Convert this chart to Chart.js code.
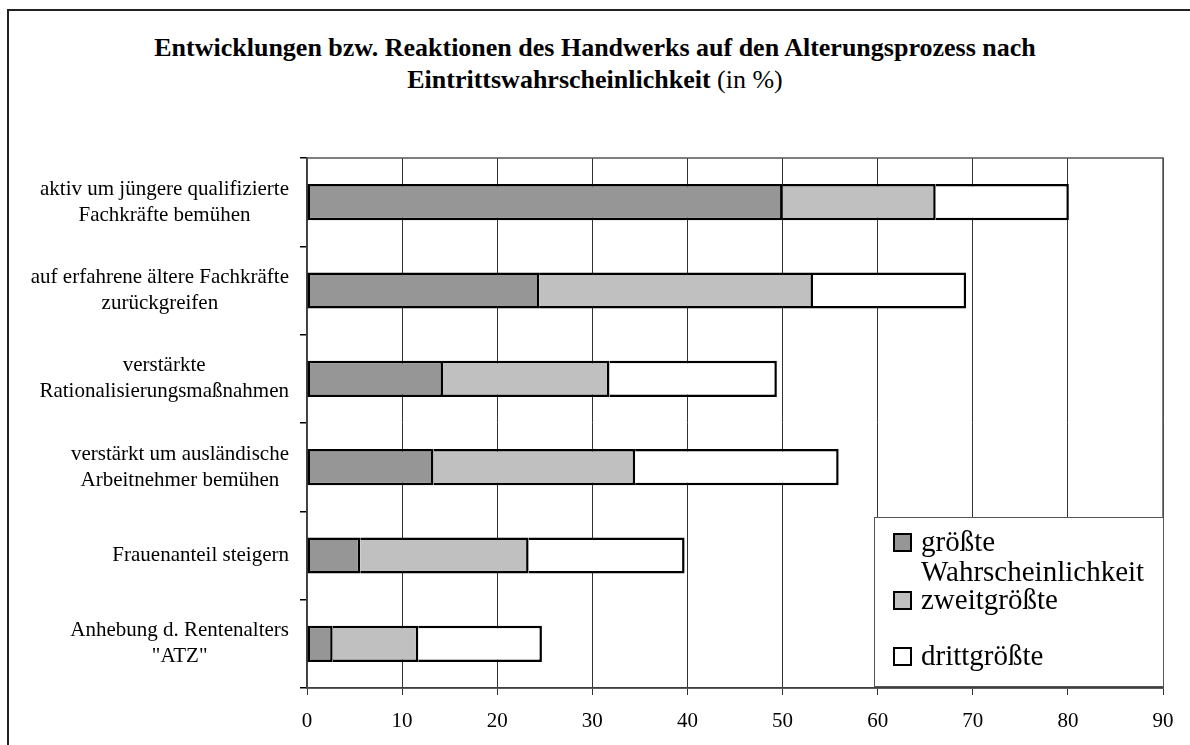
<!DOCTYPE html>
<html>
<head>
<meta charset="utf-8">
<script src="https://cdn.jsdelivr.net/npm/chart.js@4"></script>
<style>
  html, body { margin: 0; padding: 0; background: #fff; overflow: hidden; }
  #page { position: relative; width: 1190px; height: 745px; overflow: hidden; font-family: "Liberation Serif", "Times New Roman", serif; }
  #frame { position: absolute; left: 7px; top: 9px; width: 1300px; height: 900px; border-left: 2px solid #222; border-top: 2px solid #222; }
  #title { position: absolute; left: 0; width: 1190px; top: 32px; text-align: center; font-size: 26px; line-height: 32px; color: #000; }
  #title b { font-weight: bold; }
  canvas { position: absolute; left: 0; top: 0; }
  #legend { position: absolute; left: 874px; top: 517px; width: 288px; height: 168px; border: 1px solid #555; background: #fff; }
  .item { position: absolute; left: 18px; font-size: 29px; line-height: 30px; color: #000; }
  .item .sw { position: absolute; left: 0; top: 7px; width: 15px; height: 15px; border: 2px solid #000; }
  .item .tx { margin-left: 28px; display: block; width: 255px; }
</style>
</head>
<body>
<div id="page">
  <div id="frame"></div>
  <div id="title"><b>Entwicklungen bzw. Reaktionen des Handwerks auf den Alterungsprozess nach</b><br><b>Eintrittswahrscheinlichkeit</b> (in %)</div>
  <canvas id="chart" width="1190" height="745"></canvas>
  <div id="legend"></div>
</div>
<script>
const categories = [
  ['aktiv um jüngere qualifizierte', 'Fachkräfte bemühen'],
  ['auf erfahrene ältere Fachkräfte', 'zurückgreifen'],
  ['verstärkte', 'Rationalisierungsmaßnahmen'],
  ['verstärkt um ausländische', 'Arbeitnehmer bemühen'],
  ['Frauenanteil steigern'],
  ['Anhebung d. Rentenalters', '"ATZ"']
];
const seriesNames = [['größte', 'Wahrscheinlichkeit'], ['zweitgrößte'], ['drittgrößte']];
const largest = [50, 24.4, 14.3, 13.3, 5.6, 2.7];
const second = [16.1, 28.8, 17.5, 21.2, 17.7, 9.0];
const third = [14, 16.1, 17.6, 21.4, 16.4, 13.0];
const xTicks = [0, 10, 20, 30, 40, 50, 60, 70, 80, 90];

const colors = ['#969696', '#c0c0c0', '#ffffff'];
const fontFamily = '"Liberation Serif", "Times New Roman", serif';

function makeSet(i, data) {
  return {
    label: seriesNames[i].join(' '),
    data: data,
    backgroundColor: colors[i],
    borderColor: '#000',
    borderWidth: { top: 2.5, bottom: 2.5, right: 2.5, left: i === 0 ? 2.5 : 0 },
    borderSkipped: false,
    barPercentage: 0.41,
    categoryPercentage: 1
  };
}

// frame around plot area + wrapped category labels
const plotDecor = {
  id: 'plotDecor',
  beforeDatasetsDraw(chart) {
    const { ctx, chartArea: a } = chart;
    ctx.save();
    ctx.strokeStyle = '#555';
    ctx.lineWidth = 1.5;
    ctx.strokeRect(a.left, a.top, a.right - a.left, a.bottom - a.top);
    ctx.restore();
  },
  afterDraw(chart) {
    const { ctx } = chart;
    const y = chart.scales.y;
    const lh = 26;
    ctx.save();
    ctx.font = '21px ' + fontFamily;
    ctx.fillStyle = '#000';
    ctx.textAlign = 'center';
    ctx.textBaseline = 'middle';
    categories.forEach((lines, i) => {
      const cy = y.getPixelForValue(i);
      const w = Math.max(...lines.map(l => ctx.measureText(l).width));
      const cx = y.right - 18 - w / 2;
      const y0 = cy - (lines.length - 1) * lh / 2;
      lines.forEach((l, j) => ctx.fillText(l, cx, y0 + j * lh));
    });
    ctx.restore();
  }
};

const chart = new Chart(document.getElementById('chart'), {
  type: 'bar',
  data: {
    labels: categories.map(c => c.join(' ')),
    datasets: [makeSet(0, largest), makeSet(1, second), makeSet(2, third)]
  },
  options: {
    indexAxis: 'y',
    responsive: false,
    animation: false,
    devicePixelRatio: 1,
    layout: { padding: { top: 158, right: 27, left: 0, bottom: 0 } },
    plugins: { legend: { display: false }, title: { display: false }, tooltip: { enabled: false } },
    scales: {
      x: {
        stacked: true,
        min: 0,
        max: 90,
        afterBuildTicks: s => { s.ticks = xTicks.map(v => ({ value: v })); },
        afterFit: s => { s.height = 57; },
        grid: { color: '#333', lineWidth: 1, tickLength: 7, drawTicks: true },
        border: { color: '#000', width: 1.5 },
        ticks: { color: '#000', font: { family: fontFamily, size: 21 }, padding: 14 }
      },
      y: {
        stacked: true,
        afterFit: s => { s.width = 307; },
        grid: { drawOnChartArea: false, drawTicks: true, tickLength: 7, color: '#000', lineWidth: 1.5 },
        border: { color: '#000', width: 1.5 },
        ticks: { display: false }
      }
    }
  },
  plugins: [plotDecor]
});

// legend built from datasets
const legend = document.getElementById('legend');
const tops = [8, 66, 122];
chart.data.datasets.forEach((ds, i) => {
  const item = document.createElement('div');
  item.className = 'item';
  item.style.top = tops[i] + 'px';
  item.innerHTML = '<span class="sw" style="background:' + ds.backgroundColor + '"></span>' +
    '<span class="tx">' + seriesNames[i].join('<br>') + '</span>';
  legend.appendChild(item);
});
</script>
</body>
</html>
